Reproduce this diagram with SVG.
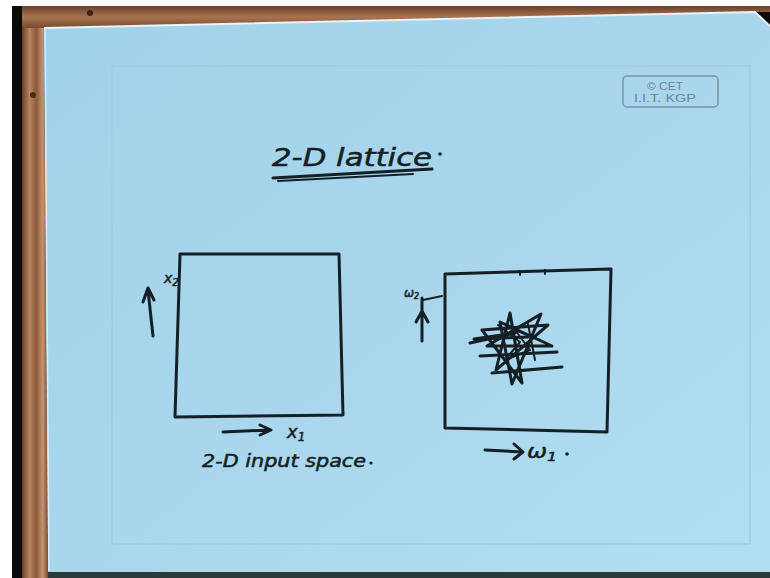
<svg xmlns="http://www.w3.org/2000/svg" width="770" height="578" viewBox="0 0 770 578">
<defs>
<linearGradient id="paper" x1="0" y1="0" x2="1" y2="1">
<stop offset="0" stop-color="#a2d2ea"/>
<stop offset="0.5" stop-color="#a9d6ec"/>
<stop offset="1" stop-color="#b2def2"/>
</linearGradient>
<linearGradient id="woodV" x1="0" y1="0" x2="1" y2="0">
<stop offset="0" stop-color="#6b3f26"/>
<stop offset="0.3" stop-color="#b88560"/>
<stop offset="0.55" stop-color="#8c5a3a"/>
<stop offset="0.8" stop-color="#c49472"/>
<stop offset="1" stop-color="#7a4a30"/>
</linearGradient>
<linearGradient id="woodH" x1="0" y1="0" x2="0" y2="1">
<stop offset="0" stop-color="#6b4028"/>
<stop offset="0.5" stop-color="#a87350"/>
<stop offset="1" stop-color="#7a4a30"/>
</linearGradient>
<style>
.ink{fill:none;stroke:#141f26;stroke-width:3;stroke-linecap:round;stroke-linejoin:round}
.thin{fill:none;stroke:#141f26;stroke-width:2;stroke-linecap:round;stroke-linejoin:round}
.hand{font-family:"DejaVu Sans",sans-serif;font-style:oblique;fill:#141f26;stroke:#141f26;stroke-width:0.5}
.logo{font-family:"Liberation Sans",Arial,sans-serif;fill:#6f8590;text-anchor:middle}
</style>
</defs>
<rect width="770" height="578" fill="#ffffff"/>
<rect x="12" y="6" width="758" height="572" fill="#0b0a08"/>
<g id="frame">
<polygon points="22,6 770,6 770,12 755,12 44,28 22,28" fill="url(#woodH)"/>
<polygon points="22,28 44,28 48,578 22,578" fill="url(#woodV)"/>
<circle cx="90" cy="13" r="3" fill="#3a2416"/>
<circle cx="33" cy="95" r="3" fill="#4a2a18"/>
</g>
<g id="paper-sheet">
<polygon points="44,28 755,12 770,26 770,572 48,572" fill="url(#paper)"/>
<polyline points="44,28 755,12 770,26" fill="none" stroke="#e8f4f8" stroke-width="2"/>
<line x1="45" y1="29" x2="49" y2="571" stroke="#d8eef6" stroke-width="1.5"/>
<rect x="48" y="572" width="722" height="6" fill="#2b3a38"/>
<rect x="112" y="66" width="638" height="478" fill="none" stroke="#9fcde4" stroke-width="1.5"/>
</g>
<g id="logo">
<rect x="623" y="76" width="95" height="31" rx="4" fill="none" stroke="#7d929b" stroke-width="1.5"/>
<text class="logo" x="665" y="90" font-size="11" textLength="36" lengthAdjust="spacingAndGlyphs">© CET</text>
<text class="logo" x="665" y="102" font-size="11" textLength="62" lengthAdjust="spacingAndGlyphs">I.I.T. KGP</text>
</g>
<g id="title">
<text class="hand" x="272" y="166" font-size="25" textLength="160" lengthAdjust="spacingAndGlyphs">2-D lattice</text>
<circle cx="440" cy="154" r="1.8" fill="#141f26"/>
<path class="ink" d="M273 178 L432 169"/>
<path class="thin" d="M278 181 L413 174"/>
</g>
<g id="input-space">
<path class="ink" d="M180 254 L339 254 L343 415 L175 417 Z"/>
<text class="hand" x="164" y="283" font-size="14">x<tspan font-size="10" dy="3">2</tspan></text>
<text class="hand" x="287" y="438" font-size="18">x<tspan font-size="12" dy="3">1</tspan></text>
<text class="hand" x="202" y="467" font-size="17" textLength="164" lengthAdjust="spacingAndGlyphs">2-D input space</text>
<circle cx="371" cy="463" r="1.6" fill="#141f26"/>
</g>
<g id="lattice-space">
<path class="ink" d="M445 274 L611 269 L607 432 L445 428 Z"/>
<path class="thin" d="M520 271 L520 275 M545 270 L545 274"/>
<text class="hand" x="404" y="297" font-size="12">ω<tspan font-size="8" dy="2">2</tspan></text>
<path class="thin" d="M423 300 L442 296"/>
<text class="hand" x="527" y="458" font-size="20" textLength="30" lengthAdjust="spacingAndGlyphs">ω<tspan font-size="13" dy="3">1</tspan></text>
<circle cx="567" cy="454" r="1.8" fill="#141f26"/>
<g id="scribble">
<path class="ink" d="M510 313 L522 383 L482 330 L548 325 L496 370 Z"/>
<path class="ink" d="M541 314 L512 384 L500 322 L552 346 L487 346 Z"/>
<path class="ink" d="M470 343 L515 333 L474 339 L528 337 M480 356 L557 352 M492 373 L562 367"/>
<path class="thin" d="M498 325 L520 342 L505 360 L530 350 L515 330 L540 340 M528 324 L535 360"/>
</g>
</g>
<g id="connectors">
<path class="ink" d="M153 336 L148 290 M143 302 L148 288 L154 300"/>
<path class="ink" d="M223 432 L270 430 M260 425 L271 430 L260 435"/>
<path class="ink" d="M422 341 L422 298 M416 322 L422 311 L428 322"/>
<path class="ink" d="M485 450 L522 452 M514 444 L523 452 L514 459"/>
</g>
</svg>
